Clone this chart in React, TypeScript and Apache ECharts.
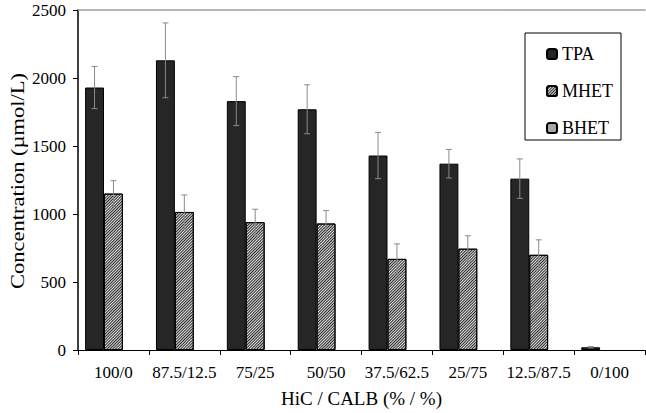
import React, { useEffect, useRef } from "react";
import * as echarts from "echarts";

const categories = ["100/0", "87.5/12.5", "75/25", "50/50", "37.5/62.5", "25/75", "12.5/87.5", "0/100"];
const tpaValues = [1930, 2130, 1830, 1770, 1430, 1370, 1260, 20];
const tpaErrors = [155, 275, 180, 180, 170, 105, 145, 5];
const mhetValues = [1150, 1015, 940, 930, 670, 745, 700, 0];
const mhetErrors = [95, 125, 95, 95, 110, 95, 110, 0];
const bhetValues = [0, 0, 0, 0, 0, 0, 0, 0];
const yTitle = "Concentration (\u00b5mol/L)";

const FONT = "'Liberation Serif', 'Times New Roman', serif";

function errorSeries(name: string, values: number[], errors: number[], slot: number) {
  return {
    type: "custom",
    name: name + " err",
    xAxisIndex: 0,
    yAxisIndex: 0,
    silent: true,
    z: 10,
    data: values.map((v, i) => [i, v, errors[i]]),
    renderItem: (params: any, api: any) => {
      const i = api.value(0);
      const v = api.value(1);
      const e = api.value(2);
      if (!e) return null;
      const catW = api.size([1, 0])[0];
      const bw = (catW * 0.8) / 3;
      const c = api.coord([i, v]);
      const x = c[0] + (slot - 1) * bw;
      const top = api.coord([i, v + e])[1];
      const bot = api.coord([i, Math.max(v - e, 0)])[1];
      const cap = 3;
      const st = { stroke: "#8a8a8a", lineWidth: 1 };
      return {
        type: "group",
        children: [
          { type: "line", shape: { x1: x, y1: top, x2: x, y2: bot }, style: st },
          { type: "line", shape: { x1: x - cap, y1: top, x2: x + cap, y2: top }, style: st },
          { type: "line", shape: { x1: x - cap, y1: bot, x2: x + cap, y2: bot }, style: st },
        ],
      };
    },
  };
}

const nz = (arr: number[]) => arr.map((v) => (v === 0 ? null : v));

export default function App() {
  const ref = useRef<HTMLDivElement>(null);
  useEffect(() => {
    const chart = echarts.init(ref.current!, null, { renderer: "svg" });
    chart.setOption({
      animation: false,
      backgroundColor: "#fff",
      textStyle: { fontFamily: FONT },
      grid: { left: 78, right: 1, top: 10, bottom: 63, containLabel: false },
      graphic: [
        {
          type: "text",
          x: 18,
          y: 181,
          rotation: Math.PI / 2,
          scaleX: 1.25,
          style: {
            text: yTitle,
            font: "18px " + FONT,
            fill: "#000",
            align: "center",
            verticalAlign: "middle",
          },
        },
      ],
      legend: {
        orient: "vertical",
        left: 525,
        top: 33,
        itemWidth: 10,
        itemHeight: 10,
        itemGap: 19,
        padding: [12, 8, 3, 21],
        borderColor: "#000",
        borderWidth: 1,
        backgroundColor: "#fff",
        textStyle: { fontFamily: FONT, fontSize: 18, color: "#000", lineHeight: 17 },
        data: ["TPA", "MHET", "BHET"],
      },
      xAxis: [
        {
          type: "category",
          data: categories,
          axisLine: { lineStyle: { color: "#000", width: 1 } },
          axisTick: { show: true, length: 5, lineStyle: { color: "#000" } },
          axisLabel: { color: "#000", fontFamily: FONT, fontSize: 17, margin: 14, interval: 0 },
          name: "HiC / CALB (% / %)",
          nameLocation: "middle",
          nameGap: 39,
          nameTextStyle: { color: "#000", fontFamily: FONT, fontSize: 19 },
        },
        {
          type: "category",
          data: categories,
          position: "top",
          axisLine: { lineStyle: { color: "#a0a0a0", width: 1.5 } },
          axisTick: { show: false },
          axisLabel: { show: false },
        },
      ],
      yAxis: {
        type: "value",
        min: 0,
        max: 2500,
        interval: 500,
        axisLine: { show: true, lineStyle: { color: "#000", width: 1.5 } },
        axisTick: { show: true, length: 5, lineStyle: { color: "#000" } },
        splitLine: { show: false },
        axisLabel: {
          color: "#000",
          fontFamily: FONT,
          fontSize: 17,
          margin: 12,
          formatter: (v: number) => String(v),
        },
      },
      series: [
        {
          name: "TPA",
          type: "bar",
          data: nz(tpaValues),
          barGap: "0%",
          barCategoryGap: "20%",
          itemStyle: { color: "#262626", borderColor: "#000", borderWidth: 1 },
        },
        {
          name: "MHET",
          type: "bar",
          data: nz(mhetValues),
          barGap: "0%",
          barCategoryGap: "20%",
          itemStyle: {
            color: "#e0e0e0",
            borderColor: "#000",
            borderWidth: 1,
            decal: {
              symbol: "rect",
              symbolSize: 1,
              dashArrayX: [1, 0],
              dashArrayY: [1, 1],
              rotation: -Math.PI / 4,
              color: "#2a2a2a",
            },
          },
        },
        {
          name: "BHET",
          type: "bar",
          data: nz(bhetValues),
          barGap: "0%",
          barCategoryGap: "20%",
          itemStyle: { color: "#a8a8a8", borderColor: "#000", borderWidth: 1 },
        },
        errorSeries("TPA", tpaValues, tpaErrors, 0),
        errorSeries("MHET", mhetValues, mhetErrors, 1),
      ],
    });
    return () => chart.dispose();
  }, []);
  return <div ref={ref} style={{ width: 646, height: 413, position: "absolute", left: 0, top: 0 }} />;
}
